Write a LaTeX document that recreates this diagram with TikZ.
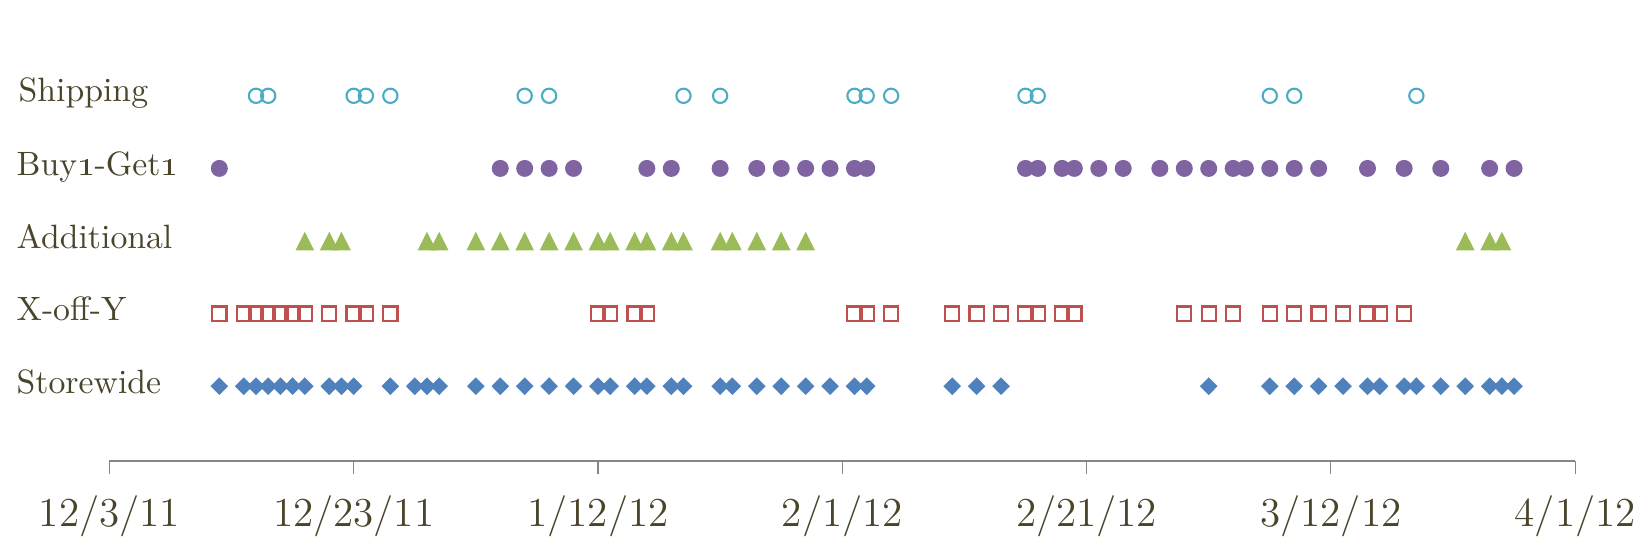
\documentclass[tikz,border=0pt]{standalone}
\usepackage{xcolor}
\usetikzlibrary{positioning}
\definecolor{shipblue}{HTML}{4BACC6}
\definecolor{buypurple}{HTML}{8064A2}
\definecolor{addgreen}{HTML}{9BBB59}
\definecolor{xoffred}{HTML}{C0504D}
\definecolor{storeblue}{HTML}{4F81BD}
\definecolor{labeltext}{HTML}{4A452A}
\definecolor{axisgray}{HTML}{868686}

\begin{document}
\begin{tikzpicture}[scale = 1]
		\tikzstyle{every node}=[font=\fontsize{9.6}{11}\selectfont, text=labeltext]
		\tikzstyle{row label}=[anchor=base west, inner sep=0pt]
		\tikzstyle{date label}=[anchor=base, inner sep=0pt, font=\fontsize{11.7}{14}\selectfont]
		\useasboundingbox (0,0) rectangle (16.5,5.5);
		% row labels
		\node [row label] (shipping) at (0.18,4.49) {Shipping};
		\node [row label] (buyget) at (0.16,3.75) {Buy\oldstylenums{1}-Get\oldstylenums{1}};
		\node [row label] (additional) at (0.16,3.02) {Additional};
		\node [row label] (xoffy) at (0.16,2.30) {X-off-Y};
		\node [row label] (storewide) at (0.16,1.57) {Storewide};
		% time axis
		\draw [axisgray, line width=0.3pt] (1.094,0.89) -- (15.752,0.89);
		\foreach \t in {1.094,3.537,5.980,8.423,10.866,13.309,15.752}
			\draw [axisgray, line width=0.3pt] (\t,0.89) -- (\t,0.76);
		\node [date label] (dec3) at (1.094,0.24) {12/3/11};
		\node [date label] (dec23) at (3.537,0.24) {12/23/11};
		\node [date label] (jan12) at (5.980,0.24) {1/12/12};
		\node [date label] (feb1) at (8.423,0.24) {2/1/12};
		\node [date label] (feb21) at (10.866,0.24) {2/21/12};
		\node [date label] (mar12) at (13.309,0.24) {3/12/12};
		\node [date label] (apr1) at (15.752,0.24) {4/1/12};
		% promotions, one unit of x = one day after 12/3/11
		\begin{scope}[shift={(1.094,0)}, x=0.12215cm]
			\foreach \d in {12,13,20,21,23,34,36,47,50,61,62,64,75,76,95,97,107}
				\draw [shipblue, line width=0.6pt] (\d,4.542) circle (0.715mm);
			\foreach \d in {9,32,34,36,38,44,46,50,53,55,57,59,61,62,75,76,78,79,81,83,86,88,90,92,93,95,97,99,103,106,109,113,115}
				\fill [buypurple] (\d,3.816) circle (0.85mm);
			\foreach \d in {16,18,19,26,27,30,32,34,36,38,40,41,43,44,46,47,50,51,53,55,57,111,113,114}
				\fill [addgreen] (\d,3.09) ++(-0.93mm,-0.925mm) -- ++(1.86mm,0) -- ++(-0.93mm,1.85mm) -- cycle;
			\foreach \d in {9,11,12,13,14,15,16,18,20,21,23,40,41,43,44,61,62,64,69,71,73,75,76,78,79,88,90,92,95,97,99,101,103,104,106}
				\draw [xoffred, line width=0.6pt] (\d,2.364) ++(-0.715mm,-0.715mm) rectangle ++(1.43mm,1.43mm);
			\foreach \d in {9,11,12,13,14,15,16,18,19,20,23,25,26,27,30,32,34,36,38,40,41,43,44,46,47,50,51,53,55,57,59,61,62,69,71,73,90,95,97,99,101,103,104,106,107,109,111,113,114,115}
				\fill [storeblue] (\d,1.638) ++(-0.88mm,0) -- ++(0.88mm,-0.885mm) -- ++(0.88mm,0.885mm) -- ++(-0.88mm,0.885mm) -- cycle;
		\end{scope}
	\end{tikzpicture}
\end{document}
